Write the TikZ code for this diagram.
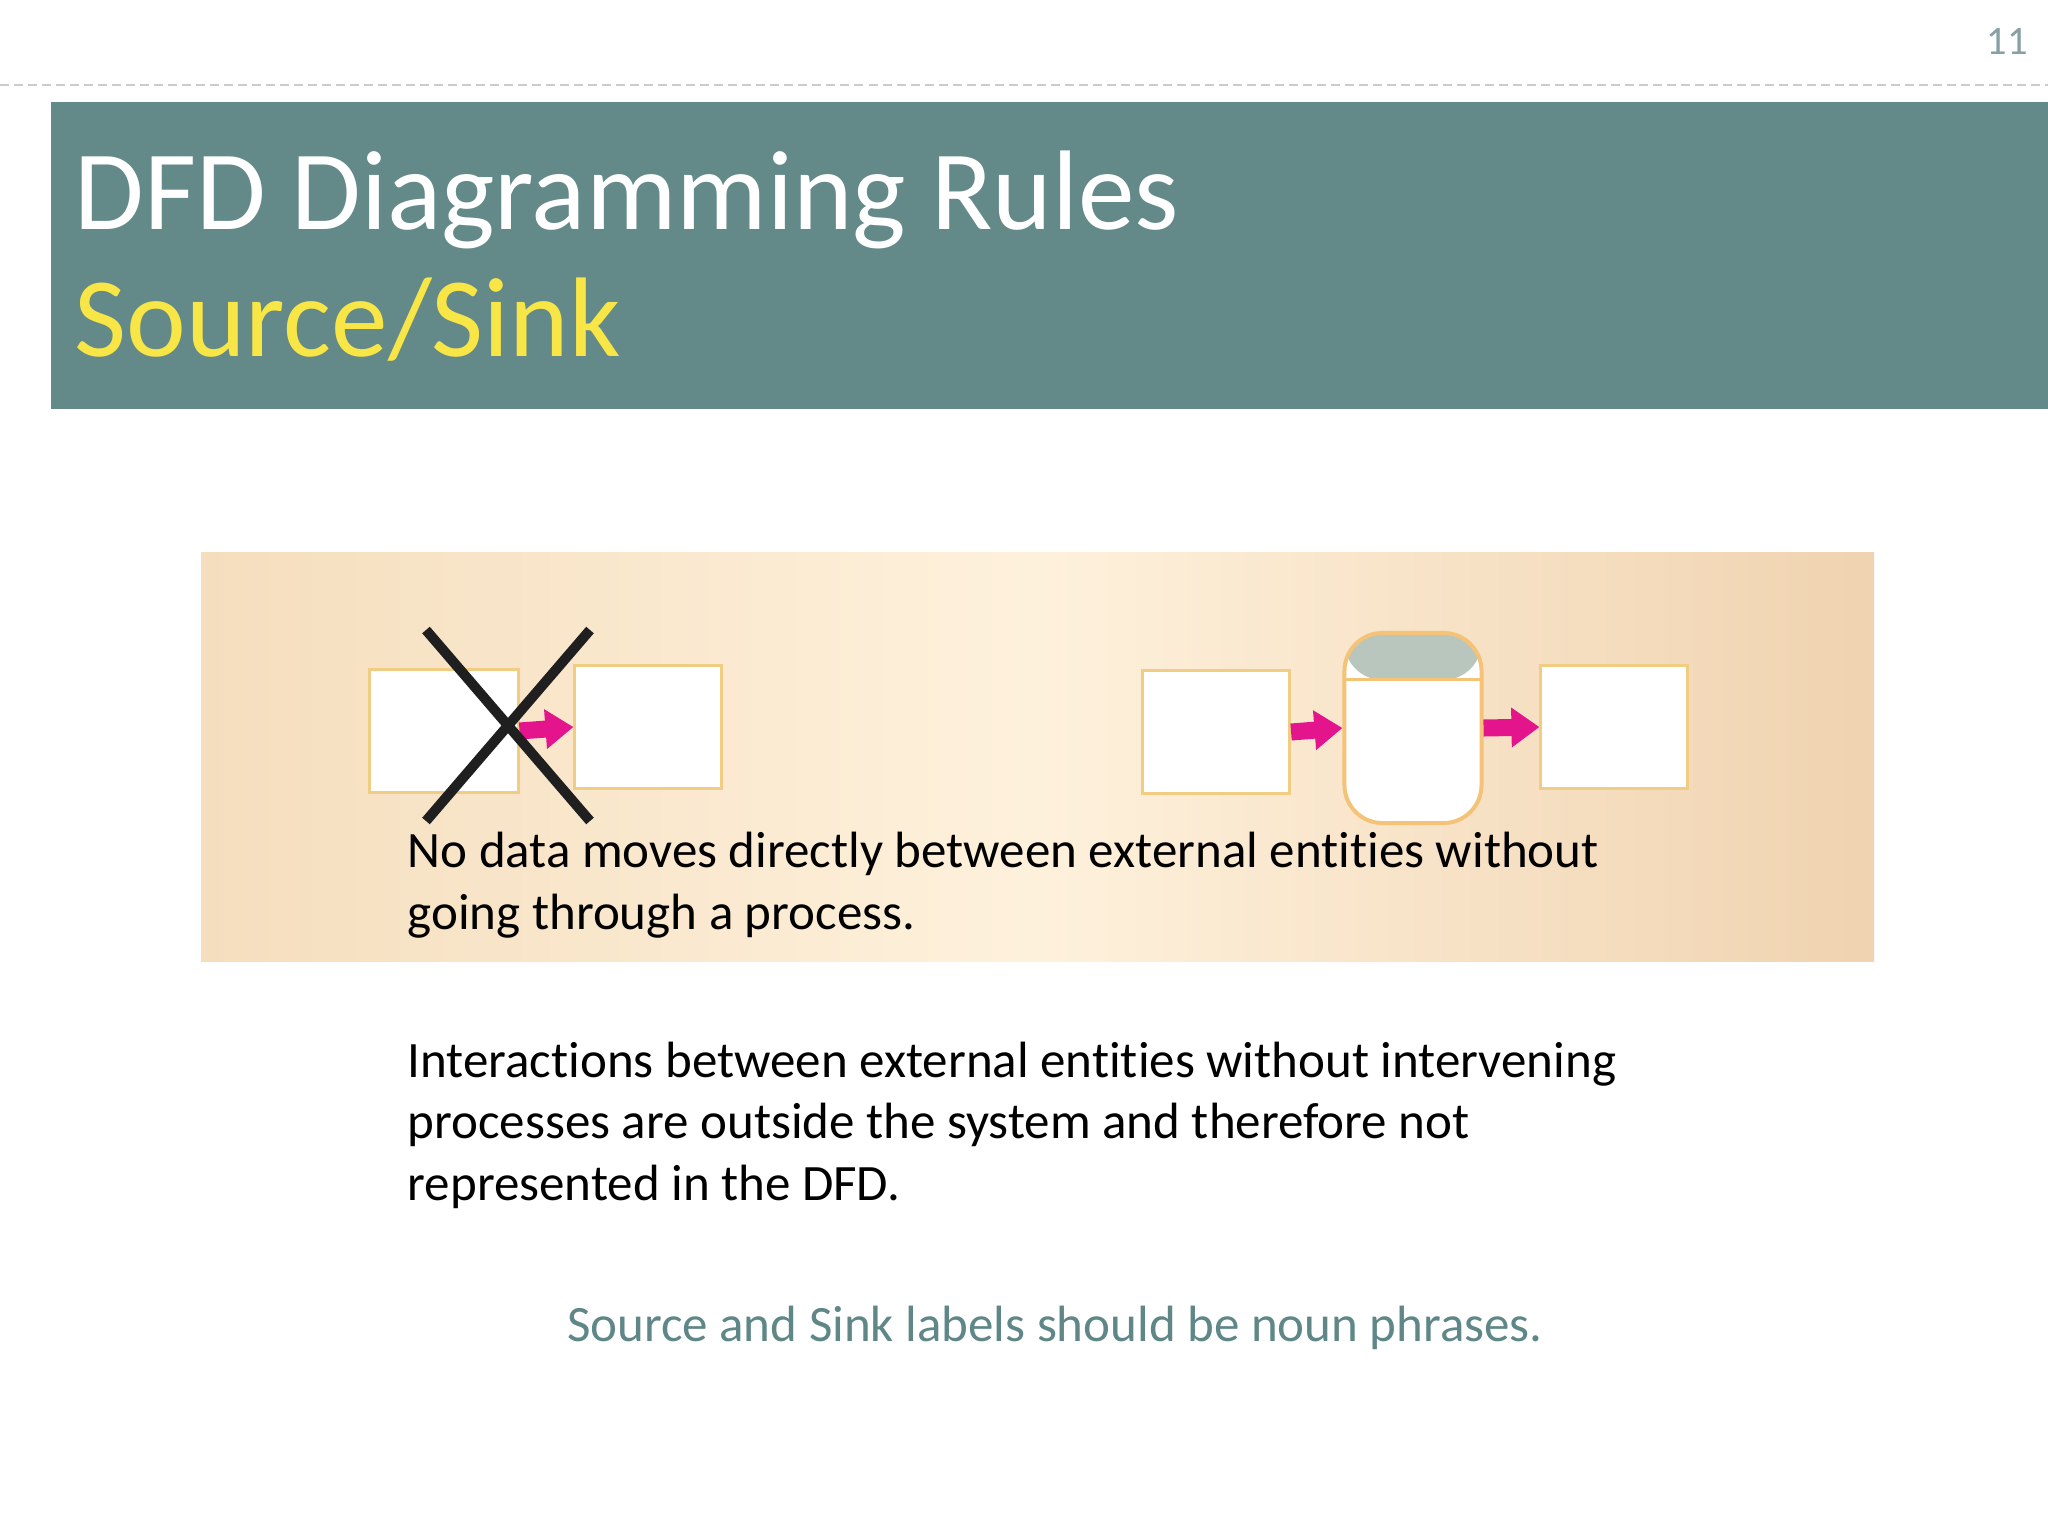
\documentclass[tikz,border=0pt]{standalone}
\usepackage{fontspec}
\setmainfont{Carlito}[Ligatures=NoCommon]
\usetikzlibrary{positioning,arrows.meta}
\definecolor{bandteal}{RGB}{99,137,137}
\definecolor{titleyellow}{RGB}{248,230,70}
\definecolor{pagegrey}{RGB}{135,160,165}
\definecolor{dashgrey}{RGB}{200,205,205}
\definecolor{panelL}{RGB}{245,222,190}
\definecolor{panelM}{RGB}{254,241,220}
\definecolor{panelR}{RGB}{240,211,176}
\definecolor{boxgold}{RGB}{240,205,130}
\definecolor{procorange}{RGB}{245,195,120}
\definecolor{procgrey}{RGB}{185,198,190}
\definecolor{flowpink}{RGB}{228,20,140}
\definecolor{noteteal}{RGB}{95,135,135}

\begin{document}
\begin{tikzpicture}[x=0.01cm,y=-0.01cm,
      entity/.style={draw=boxgold,line width=0.03cm,fill=white,inner sep=0,
        minimum width=1.47cm,minimum height=1.22cm},
      process/.style={draw=procorange,line width=0.04cm,fill=white,inner sep=0,
        rounded corners=0.38cm,minimum width=1.37cm,minimum height=1.9cm,
        path picture={\fill[procgrey] (path picture bounding box.north west)
          rectangle ([yshift=-0.47cm]path picture bounding box.north east);
          \draw[procorange,line width=0.03cm] ([yshift=-0.47cm]path picture bounding box.north west)
          -- ([yshift=-0.47cm]path picture bounding box.north east);}},
      flow/.style={draw=flowpink,line width=0.17cm,-{Triangle[length=0.28cm,width=0.38cm]}},
      cross/.style={draw=black!88,line width=0.1cm},
      body/.style={font=\fontsize{14.5}{17.4}\selectfont,inner sep=0,align=left,anchor=base west}
      ]
      \useasboundingbox (0,0) rectangle (2048,1536);
      \fill[white] (0,0) rectangle (2048,1536);

      % header
      \draw[dashgrey,line width=0.02cm,dash pattern=on 0.09cm off 0.05cm] (0,85) -- (2048,85);
      \node[text=pagegrey,font=\fontsize{11.5}{13}\selectfont,anchor=base] (page) at (2007,54) {11};
      \fill[bandteal] (51,102) rectangle (2048,409);
      \node[text=white,font=\fontsize{32.2}{36}\selectfont,anchor=base west,inner sep=0] (title) at (74,229) {DFD Diagramming Rules};
      \node[text=titleyellow,font=\fontsize{32.2}{36}\selectfont,anchor=base west,inner sep=0] (subtitle) at (74,356) {Source/Sink};

      % panel
      \shade[left color=panelL,right color=panelR,middle color=panelM] (201,552) rectangle (1874,961);

      % wrong: entity to entity
      \node[entity,minimum width=1.48cm,minimum height=1.23cm] (e1) at (444,731) {};
      \node[entity,minimum width=1.46cm,minimum height=1.22cm] (e2) at (648,727) {};
      \draw[flow] (e1.east) -- (e2.west);
      \draw[cross] (426,630) -- (590,821);
      \draw[cross] (590,630) -- (426,821);

      % right: entity -> process -> entity
      \node[entity] (src) at (1216,732) {};
      \node[process] (proc) at (1413,728) {};
      \node[entity,minimum width=1.46cm] (sink) at (1614,727) {};
      \draw[flow] (src.east) -- (proc.west);
      \draw[flow] (proc.east) -- (sink.west);

      % texts
      \node[body] (rule) at (407,929) {No data moves directly between external entities without\\going through a process.};
      \node[body] (note) at (407,1200) {Interactions between external entities without intervening\\processes are outside the system and therefore not\\represented in the DFD.};
      \node[body,text=noteteal,anchor=base] (label) at (1055,1341) {Source and Sink labels should be noun phrases.};
    \end{tikzpicture}
\end{document}
